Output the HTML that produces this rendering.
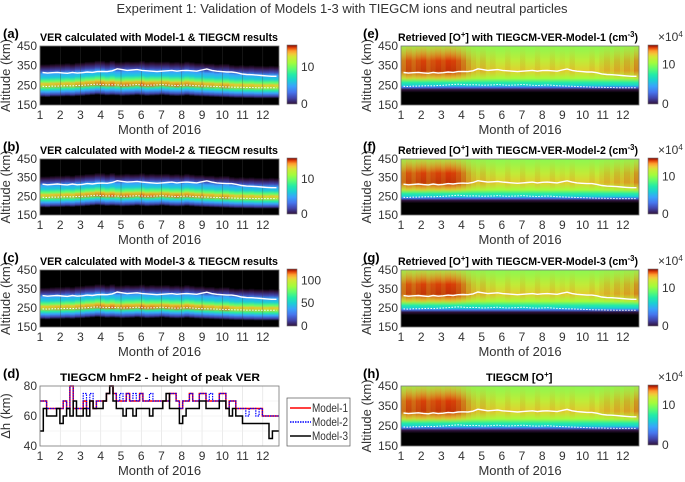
<!DOCTYPE html>
<html><head><meta charset="utf-8"><style>
body{margin:0;background:#fff;}
svg{display:block;font-family:"Liberation Sans",sans-serif;}
.t{font-size:12px;fill:#333}
.ti{font-size:11px;font-weight:bold;fill:#000}
.pl{font-size:13px;font-weight:bold;fill:#000}
.lb{font-size:13px;fill:#333}
</style></head><body>
<svg id="fig" width="685" height="482" viewBox="0 0 685 482">
<defs>
<linearGradient id="verG" x1="0" y1="0" x2="0" y2="1">
<stop offset="0" stop-color="#000"/><stop offset="0.08" stop-color="#30123b"/><stop offset="0.2" stop-color="#4145ab"/><stop offset="0.3" stop-color="#39a2fc"/><stop offset="0.42" stop-color="#1bcfd4"/><stop offset="0.52" stop-color="#61fc6c"/><stop offset="0.6" stop-color="#e8d030"/><stop offset="0.67" stop-color="#a4fc3b"/><stop offset="0.76" stop-color="#24eca6"/><stop offset="0.84" stop-color="#39a2fc"/><stop offset="0.93" stop-color="#4145ab"/><stop offset="1" stop-color="#000"/>
</linearGradient>
<linearGradient id="verHot" x1="0" y1="0" x2="0" y2="1">
<stop offset="0" stop-color="#f36315" stop-opacity="0"/><stop offset="0.4" stop-color="#f36315" stop-opacity="0.9"/><stop offset="0.6" stop-color="#d93806" stop-opacity="0.9"/><stop offset="1" stop-color="#f36315" stop-opacity="0"/>
</linearGradient>
<linearGradient id="oG" x1="0" y1="0" x2="0" y2="1">
<stop offset="0" stop-color="#8cf850"/><stop offset="0.25" stop-color="#c0ec38"/><stop offset="0.42" stop-color="#e2d030"/><stop offset="0.55" stop-color="#a4fc3b"/><stop offset="0.62" stop-color="#24eca6"/><stop offset="0.67" stop-color="#1bcfd4"/><stop offset="0.7" stop-color="#4675ed"/><stop offset="0.74" stop-color="#30123b"/><stop offset="0.79" stop-color="#000"/><stop offset="1" stop-color="#000"/>
</linearGradient>
<linearGradient id="oHot" x1="0" y1="0" x2="0" y2="1">
<stop offset="0" stop-color="#fe9b2d" stop-opacity="0.3"/><stop offset="0.25" stop-color="#d93806" stop-opacity="1"/><stop offset="0.42" stop-color="#c03005" stop-opacity="1"/><stop offset="0.54" stop-color="#fe9b2d" stop-opacity="0.6"/><stop offset="0.62" stop-color="#a4fc3b" stop-opacity="0"/>
</linearGradient>
<linearGradient id="cbar" x1="0" y1="1" x2="0" y2="0">
<stop offset="0" stop-color="#30123b"/><stop offset="0.1" stop-color="#4145ab"/><stop offset="0.2" stop-color="#4675ed"/><stop offset="0.3" stop-color="#39a2fc"/><stop offset="0.4" stop-color="#1bcfd4"/><stop offset="0.5" stop-color="#24eca6"/><stop offset="0.6" stop-color="#61fc6c"/><stop offset="0.7" stop-color="#a4fc3b"/><stop offset="0.8" stop-color="#d1e834"/><stop offset="0.85" stop-color="#f3c63a"/><stop offset="0.9" stop-color="#fe9b2d"/><stop offset="0.95" stop-color="#e4460a"/><stop offset="1" stop-color="#7a0403"/>
</linearGradient>
</defs>
<text x="342" y="13" text-anchor="middle" class="lb">Experiment 1: Validation of Models 1-3 with TIEGCM ions and neutral particles</text>
</svg>
<script>
// ---- data ----
const months = [1,2,3,4,5,6,7,8,9,10,11,12];
const altTicks = [150,250,350,450];
// hmF2 (solid white line), 48 samples across the year
const hmF2 = [315,312,314,316,313,311,316,312,314,318,316,320,321,320,324,334,330,326,328,330,326,324,322,320,322,324,326,322,325,326,324,322,328,333,326,322,320,318,318,314,308,305,304,302,300,298,296,296];
// VER peak altitude (dotted white line)
const peakAlt = [245,244,246,246,247,248,247,249,250,252,254,256,254,252,253,252,250,251,252,254,252,250,251,252,254,252,250,249,250,252,250,248,247,246,245,244,243,242,241,240,240,239,239,238,238,238,238,238];
// VER peak intensity (0-1), 48 samples
const verInt = [0.2,0.3,0.3,0.4,0.3,0.4,0.3,0.5,0.5,0.6,0.5,0.7,0.8,0.6,0.9,0.5,0.7,0.8,0.6,0.5,0.9,0.7,0.8,0.6,0.5,0.7,0.6,0.8,0.5,0.7,0.6,0.5,0.6,0.4,0.5,0.3,0.5,0.6,0.3,0.2,0.3,0.2,0.3,0.2,0.2,0.1,0.2,0.1];
// O+ density intensity (0-1), 48 samples
const oInt = [0.6,0.85,0.7,0.85,0.95,0.75,0.85,0.95,0.85,1.0,0.95,0.8,0.6,0.35,0.2,0.1,0.2,0.05,0.1,0.0,0.0,0.1,0.0,0.0,0.1,0.0,0.0,0.1,0.0,0.0,0.1,0.0,0.05,0.0,0.1,0.0,0.0,0.0,0.1,0.0,0.1,0.2,0.1,0.25,0.15,0.3,0.2,0.45];
// hmF2 differences (panel d), 6 samples per month
const dhModel1 = [70,70,65,65,65,65, 65,70,65,80,65,65, 65,70,65,70,65,70, 70,70,75,80,75,70, 70,70,75,70,70,70, 75,70,70,70,70,70, 70,70,70,75,75,70, 65,70,70,75,70,70, 75,75,70,70,70,70, 75,75,65,70,70,65, 65,65,65,65,65,65, 65,60,60,60,60,60];
const dhModel2 = [70,70,65,65,65,65, 65,70,65,80,65,65, 65,75,65,75,65,70, 70,70,75,80,75,70, 75,70,75,70,75,70, 75,70,70,75,70,70, 70,70,70,75,75,70, 65,70,70,75,70,70, 75,75,70,75,70,70, 75,75,65,70,70,65, 65,65,60,65,65,60, 65,60,60,60,60,60];
const dhModel3 = [50,65,60,60,60,65, 55,60,65,60,70,60, 60,65,60,70,65,65, 65,70,75,80,70,65, 65,60,65,65,60,65, 65,65,65,60,65,65, 65,70,75,65,65,65, 55,60,65,65,65,65, 70,70,65,65,65,65, 70,70,65,60,65,60, 60,55,55,55,55,55, 55,55,55,45,50,50];
const legendLabels = ['Model-1','Model-2','Model-3'];
const seriesColors = ['#ff0000','#0000ff','#000000'];

const NS='http://www.w3.org/2000/svg';
const svg=document.getElementById('fig');
function el(tag,attrs,parent,text){const e=document.createElementNS(NS,tag);for(const k in attrs)e.setAttribute(k,attrs[k]);if(text!==undefined)e.textContent=text;(parent||svg).appendChild(e);return e;}
const X0L=40,X1L=279,X0R=401,X1R=639;
const tMin=1,tMax=12.8;
function xs(x0,x1){return t=>x0+(t-tMin)/(tMax-tMin)*(x1-x0);}
function ys(y0,y1,lo,hi){return v=>y1-(v-lo)/(hi-lo)*(y1-y0);}
const sampleT=i=>tMin+(i+0.5)*(tMax-tMin)/48;

function axesFrame(x0,x1,y0,y1,yTicks,ysc,name,ylab){
  const g=el('g',{},svg);
  
  
  el('rect',{x:x0,y:y0,width:x1-x0,height:y1-y0,fill:'none',stroke:'#777','stroke-width':0.8},g);
  const xsc=xs(x0,x1);
  months.forEach(m=>{
    const tx=el('text',{x:xsc(m),y:y1+14,'text-anchor':'middle',class:'t'},g,String(m));
    
    
  });
  yTicks.forEach(v=>{
    const tx=el('text',{x:x0-3,y:ysc(v)+4,'text-anchor':'end',class:'t'},g,String(v));
    
    
  });
  const xl=el('text',{x:(x0+x1)/2,y:y1+29,'text-anchor':'middle',class:'lb'},g,'Month of 2016');
  
  
  const yl=el('text',{x:0,y:0,'text-anchor':'middle',class:'lb',transform:`translate(${x0-30},${(y0+y1)/2}) rotate(-90)`},g,ylab);
  
  
}
function titleText(x,y,label,tx,html,name,len){
  const l=el('text',{x:x,y:y-3,class:'pl'},svg,label);
  
  
  const attrs={x:tx,y:y,class:'ti'};
  if(len){attrs.textLength=len;attrs.lengthAdjust='spacingAndGlyphs';}
  const t=el('text',attrs,svg);
  
  
  t.innerHTML=html;
}
function colorbar(x,y0,y1,ticks,lo,hi,exp,name){
  const g=el('g',{},svg);
  
  
  el('rect',{x:x,y:y0,width:10,height:y1-y0,fill:'url(#cbar)',stroke:'#777','stroke-width':0.6},g);
  ticks.forEach(v=>{const yy=y1-(v-lo)/(hi-lo)*(y1-y0);el('text',{x:x+14,y:yy+4,class:'t'},g,String(v));});
  if(exp){const e=el('text',{x:x+10,y:y0-4,class:'t','font-size':'11'},g);e.innerHTML='×10<tspan dy="-4" font-size="8">4</tspan>';}
}
function whiteLines(x0,x1,ysc,g){
  const xsc=xs(x0,x1);
  const p1=hmF2.map((v,i)=>`${i?'L':'M'}${xsc(sampleT(i)).toFixed(1)},${ysc(v).toFixed(1)}`).join('');
  const l1=el('path',{d:p1,fill:'none',stroke:'#fff','stroke-width':1.4},g);
  
  
  const p2=peakAlt.map((v,i)=>`${i?'L':'M'}${xsc(sampleT(i)).toFixed(1)},${ysc(v).toFixed(1)}`).join('');
  const l2=el('path',{d:p2,fill:'none',stroke:'#fff','stroke-width':1,'stroke-dasharray':'1.5 1.5'},g);
  
  
}
function verPanel(y0,y1,label,title,cbTicks,cbHi,name){
  const ysc=ys(y0,y1,150,450),xsc=xs(X0L,X1L);
  const g=el('g',{},svg);
  
  
  el('rect',{x:X0L,y:y0,width:X1L-X0L,height:y1-y0,fill:'#000'},g);
  const w=(X1L-X0L)/48;
  verInt.forEach((v,i)=>{
    const pk=peakAlt[i];
    const top=ysc(pk+110+v*15),bot=ysc(pk-55);
    const r=el('rect',{x:xsc(sampleT(i))-w/2,y:top,width:w+0.4,height:bot-top,fill:'url(#verG)'},g);
    
    
    const h=el('rect',{x:xsc(sampleT(i))-w/2,y:ysc(pk+20),width:w+0.4,height:ysc(pk-15)-ysc(pk+20),fill:'url(#verHot)',opacity:v},g);
    
    
  });
  months.forEach(m=>el('line',{x1:xsc(m),x2:xsc(m),y1:y0,y2:y1,stroke:'#444','stroke-width':0.5,opacity:0.6},g));
  whiteLines(X0L,X1L,ysc,g);
  axesFrame(X0L,X1L,y0,y1,altTicks,ysc,name,'Altitude (km)');
  titleText(3,y0-5,label,40,title,name+'-title',238);
  colorbar(287,y0-1,y1-1,cbTicks,0,cbHi,false,name+'-colorbar');
}
function oPanel(y0,y1,label,title,tx,name,len){
  const ysc=ys(y0,y1,150,450),xsc=xs(X0R,X1R);
  const g=el('g',{},svg);
  
  
  el('rect',{x:X0R,y:y0,width:X1R-X0R,height:y1-y0,fill:'url(#oG)'},g);
  const w=(X1R-X0R)/48;
  oInt.forEach((v,i)=>{
    const r=el('rect',{x:xsc(sampleT(i))-w/2,y:y0,width:w+0.4,height:y1-y0,fill:'url(#oHot)',opacity:v},g);
    
    
  });
  whiteLines(X0R,X1R,ysc,g);
  axesFrame(X0R,X1R,y0,y1,altTicks,ysc,name,'Altitude (km)');
  titleText(363,y0-5,label,tx,title,name+'-title',len);
  colorbar(648,y0-1,y1-1,[0,10],0,15,true,name+'-colorbar');
}
verPanel(46,105,'(a)','VER calculated with Model-1 &amp; TIEGCM results',[0,10],16,'panel-a');
verPanel(159,215,'(b)','VER calculated with Model-2 &amp; TIEGCM results',[0,10],16,'panel-b');
verPanel(270,327,'(c)','VER calculated with Model-3 &amp; TIEGCM results',[0,50,100],125,'panel-c');
const oT=m=>`Retrieved [O<tspan dy="-4" font-size="8">+</tspan><tspan dy="4">] with TIEGCM-VER-Model-${m} (cm</tspan><tspan dy="-4" font-size="8">-3</tspan><tspan dy="4">)</tspan>`;
oPanel(46,105,'(e)',oT(1),398,'panel-e',240);
oPanel(159,215,'(f)',oT(2),398,'panel-f',240);
oPanel(270,327,'(g)',oT(3),398,'panel-g',240);
oPanel(386,446,'(h)','TIEGCM [O<tspan dy="-4" font-size="8">+</tspan><tspan dy="4">]</tspan>',486,'panel-h',0);

// panel d
(function(){
  const y0=386,y1=446,ysc=ys(y0,y1,40,80),xsc=xs(X0L,X1L);
  const g=el('g',{},svg);
  
  
  months.forEach(m=>el('line',{x1:xsc(m),x2:xsc(m),y1:y0,y2:y1,stroke:'#ddd','stroke-width':0.6},g));
  [50,60,70].forEach(v=>el('line',{x1:X0L,x2:X1L,y1:ysc(v),y2:ysc(v),stroke:'#eee','stroke-width':0.6},g));
  const n=dhModel1.length,tt=i=>tMin+i*(tMax-tMin)/n;
  function step(arr){let d='';arr.forEach((v,i)=>{d+=(i?'L':'M')+xsc(tt(i)).toFixed(1)+','+ysc(v).toFixed(1)+'L'+xsc(tt(i+1)).toFixed(1)+','+ysc(v).toFixed(1);});return d;}
  const s1=el('path',{d:step(dhModel1),fill:'none',stroke:seriesColors[0],'stroke-width':1.5},g);
  
  
  const s2=el('path',{d:step(dhModel2),fill:'none',stroke:seriesColors[1],'stroke-width':1.2,'stroke-dasharray':'1.5 1'},g);
  
  
  const s3=el('path',{d:step(dhModel3),fill:'none',stroke:seriesColors[2],'stroke-width':1.5},g);
  
  
  axesFrame(X0L,X1L,y0,y1,[40,60,80],ysc,'panel-d','Δh (km)');
  titleText(3,y0-5,'(d)',60,'TIEGCM hmF2 - height of peak VER','panel-d-title',200);
  const lg=el('g',{},svg);
  
  
  el('rect',{x:287,y:398,width:63,height:48,fill:'#fff',stroke:'#555','stroke-width':0.7},lg);
  legendLabels.forEach((lab,i)=>{
    const yy=408+i*14;
    const e=el('g',{},lg);
    
    
    el('line',{x1:290,x2:311,y1:yy,y2:yy,stroke:seriesColors[i],'stroke-width':1.5,'stroke-dasharray':i==1?'1.5 1':'none'},e);
    el('text',{x:312,y:yy+4,class:'t','font-size':'10.5',textLength:36,lengthAdjust:'spacingAndGlyphs'},e,lab);
  });
})();
</script>
</body></html>
